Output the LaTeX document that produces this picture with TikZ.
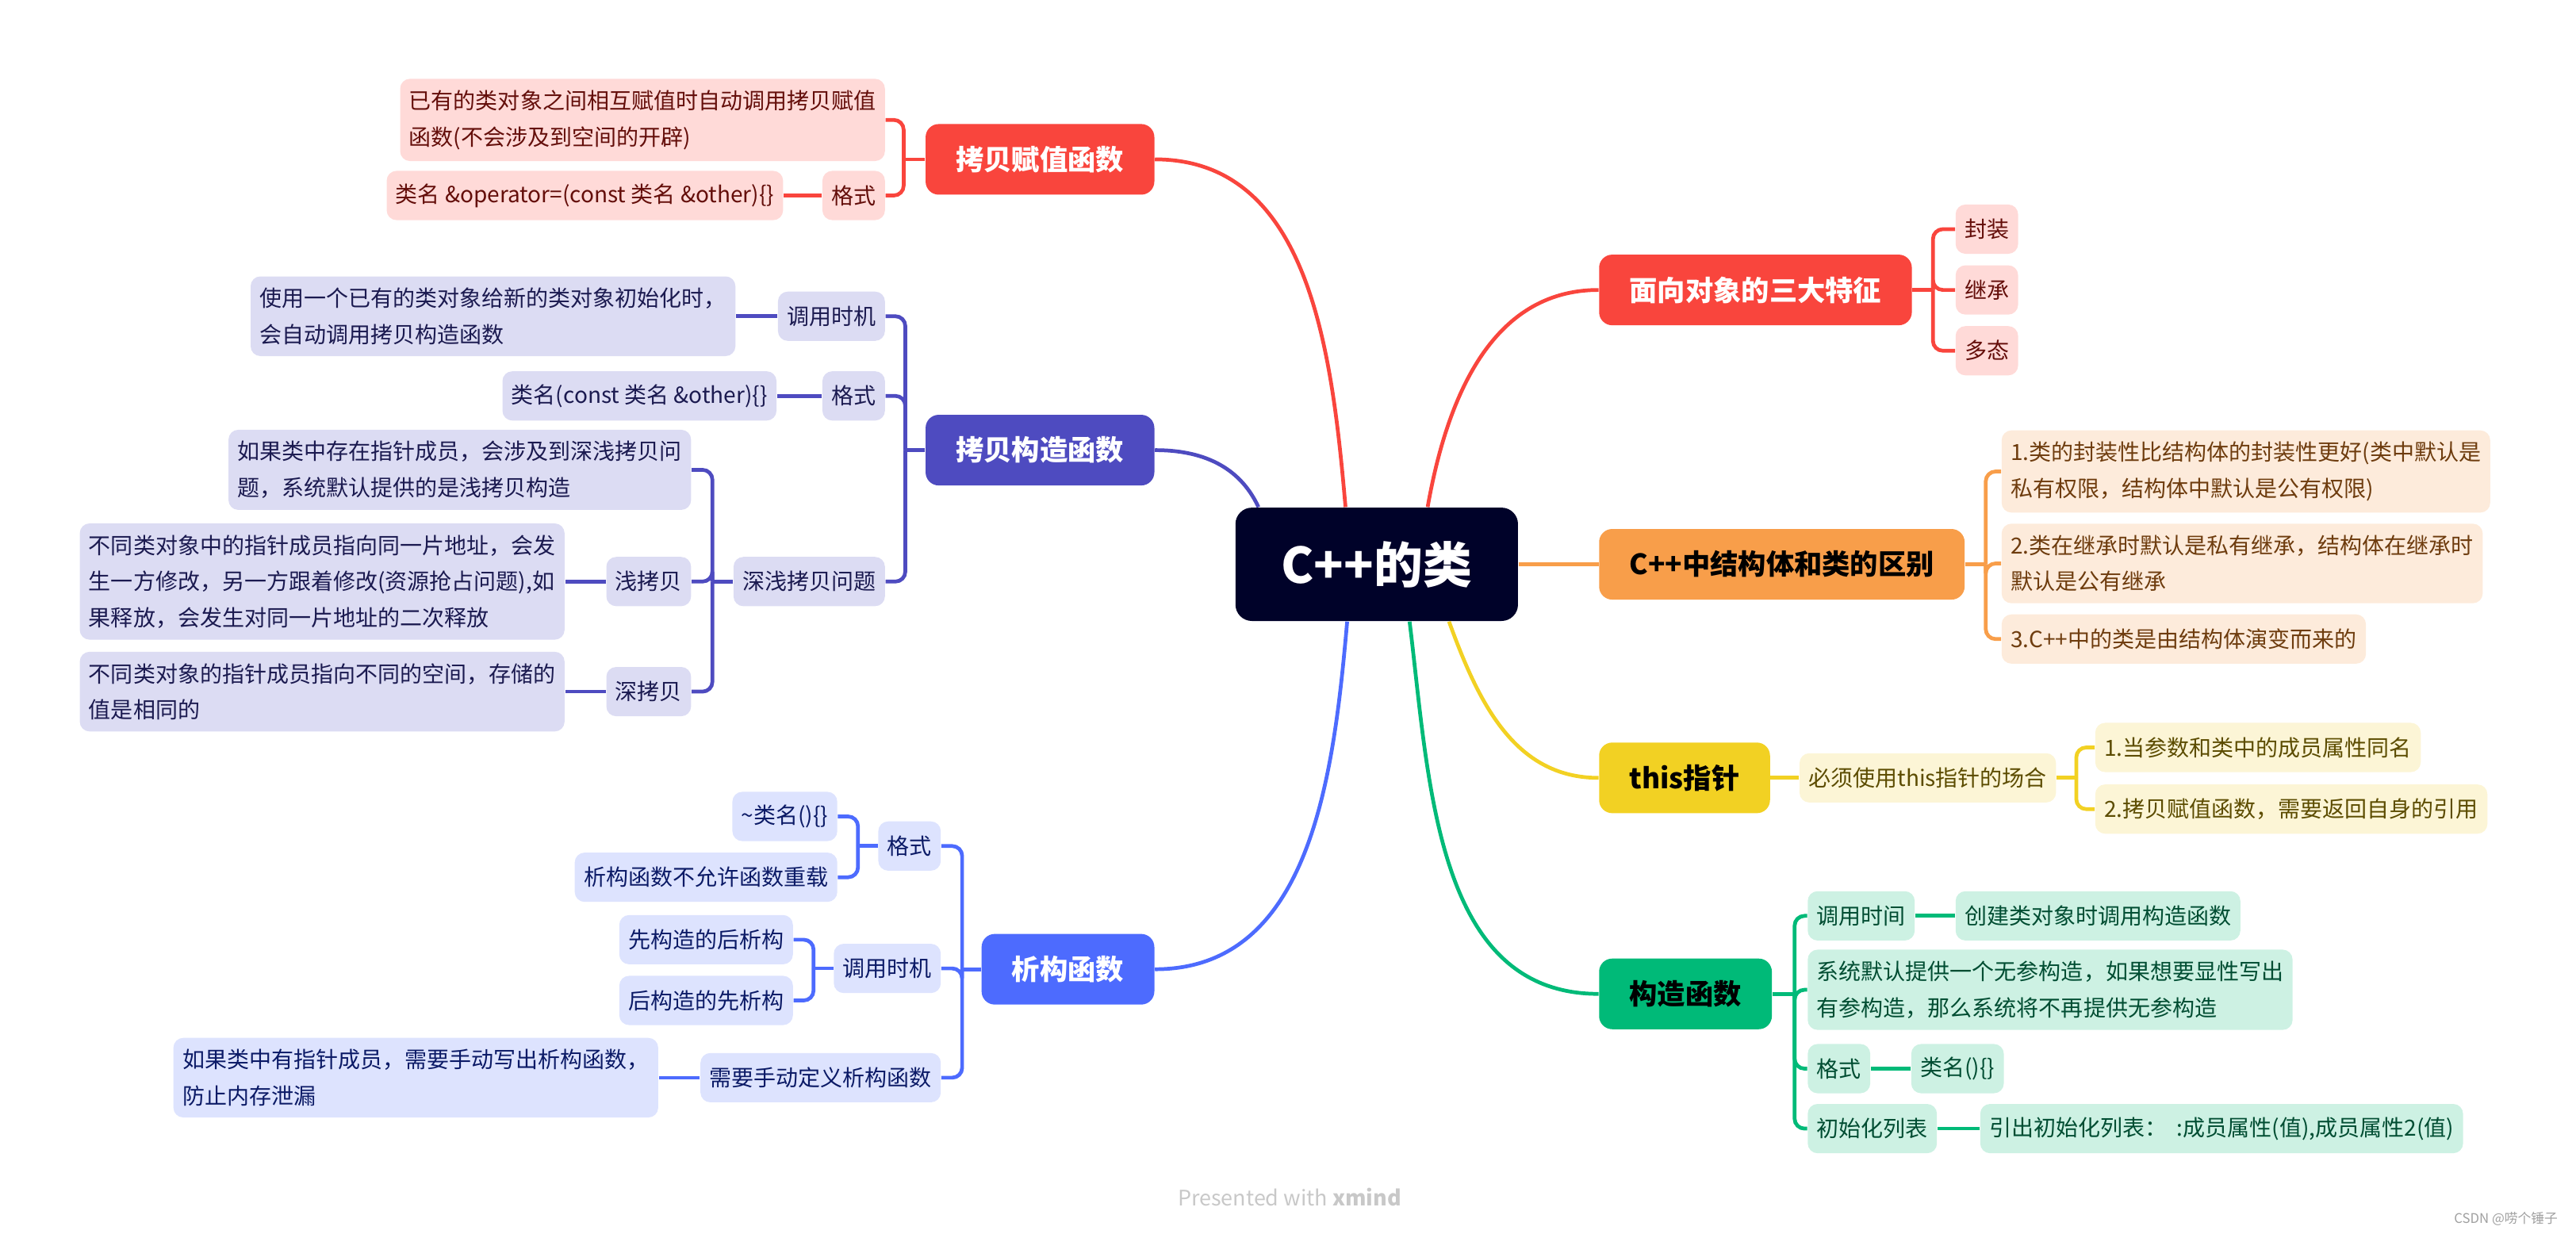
\documentclass[tikz,border=0pt]{standalone}
\usepackage{fontspec}
\setmainfont{Noto Sans CJK SC}
\usepackage{tikz}
\usetikzlibrary{positioning}
\usepackage{xcolor}
\definecolor{Abyss}{RGB}{0,2,41}
\definecolor{Cinnabar}{RGB}{249,69,61}
\definecolor{PinkMist}{RGB}{255,218,216}
\definecolor{Maroon}{RGB}{100,14,10}
\definecolor{Tangerine}{RGB}{248,158,74}
\definecolor{Peach}{RGB}{253,235,219}
\definecolor{Umber}{RGB}{110,60,14}
\definecolor{Mustard}{RGB}{242,209,35}
\definecolor{Cream}{RGB}{252,245,214}
\definecolor{Olive}{RGB}{92,76,0}
\definecolor{Jade}{RGB}{0,186,120}
\definecolor{Mint}{RGB}{205,241,227}
\definecolor{Forest}{RGB}{0,77,50}
\definecolor{Indigo}{RGB}{78,75,192}
\definecolor{Lilac}{RGB}{220,220,243}
\definecolor{Ink}{RGB}{27,26,80}
\definecolor{Azure}{RGB}{77,107,254}
\definecolor{Sky}{RGB}{221,227,254}
\definecolor{Navy}{RGB}{11,26,102}
\definecolor{Ash}{RGB}{200,200,200}

\tikzset{
  root/.style={fill=Abyss, text=white, rounded corners=0.2cm, minimum width=3.44cm,
    minimum height=1.38cm, font=\fontsize{17}{20}\selectfont\bfseries},
  topic/.style={fill=#1, rounded corners=0.16cm, minimum height=0.86cm, inner xsep=0.37cm,
    font=\fontsize{9.7}{12}\selectfont\bfseries},
  leaf/.style={rounded corners=0.12cm, minimum height=0.6cm, inner xsep=0.11cm,
    inner ysep=0.14cm, align=left, font=\fontsize{7.7}{12.5}\selectfont},
  pinkleaf/.style={leaf, fill=PinkMist, text=Maroon},
  peachleaf/.style={leaf, fill=Peach, text=Umber},
  creamleaf/.style={leaf, fill=Cream, text=Olive},
  mintleaf/.style={leaf, fill=Mint, text=Forest},
  lilacleaf/.style={leaf, fill=Lilac, text=Ink},
  skyleaf/.style={leaf, fill=Sky, text=Navy},
  wire/.style={draw=#1, line width=1.3pt},
  brace/.style={draw=#1, line width=1.3pt, rounded corners=0.12cm},
}

\begin{document}
\begin{tikzpicture}[x=0.02cm, y=-0.02cm]
	\useasboundingbox (0,0) rectangle (1568,751);

	% Nodo central
	\node[root] (root) at (838,343.5) {C++的类};

	% Ramas de la derecha
	\node[topic=Cinnabar, text=white, anchor=west] (rasgos) at (973,176.5) {面向对象的三大特征};
	\node[pinkleaf, anchor=west] (encap) at (1190,139.5) {封装};
	\node[pinkleaf, anchor=west] (herencia) at (1190,176.5) {继承};
	\node[pinkleaf, anchor=west] (poli) at (1190,213.5) {多态};

	\node[topic=Tangerine, anchor=west] (diferencia) at (973,343.5) {C++中结构体和类的区别};
	\node[peachleaf, anchor=west] (dif1) at (1218,287) {1.类的封装性比结构体的封装性更好(类中默认是\\私有权限，结构体中默认是公有权限)};
	\node[peachleaf, anchor=west] (dif2) at (1218,343) {2.类在继承时默认是私有继承，结构体在继承时\\默认是公有继承};
	\node[peachleaf, anchor=west] (dif3) at (1218,389) {3.C++中的类是由结构体演变而来的};

	\node[topic=Mustard, anchor=west] (this) at (973,473.5) {this指针};
	\node[creamleaf, anchor=west] (caso) at (1095,473.5) {必须使用this指针的场合};
	\node[creamleaf, anchor=west] (caso1) at (1275,455) {1.当参数和类中的成员属性同名};
	\node[creamleaf, anchor=west] (caso2) at (1275,492.5) {2.拷贝赋值函数，需要返回自身的引用};

	\node[topic=Jade, anchor=west] (ctor) at (973,605) {构造函数};
	\node[mintleaf, anchor=west] (ctort) at (1100,557.5) {调用时间};
	\node[mintleaf, anchor=west] (ctorta) at (1190,557.5) {创建类对象时调用构造函数};
	\node[mintleaf, anchor=west] (ctord) at (1100,602.5) {系统默认提供一个无参构造，如果想要显性写出\\有参构造，那么系统将不再提供无参构造};
	\node[mintleaf, anchor=west] (ctorf) at (1100,650.5) {格式};
	\node[mintleaf, anchor=west] (ctorfa) at (1163,650.5) {类名()\{\}};
	\node[mintleaf, anchor=west] (ctorl) at (1100,687) {初始化列表};
	\node[mintleaf, anchor=west] (ctorla) at (1205,687) {引出初始化列表：\ \ :成员属性(值),成员属性2(值)};

	% Ramas de la izquierda
	\node[topic=Cinnabar, text=white, anchor=east] (asig) at (703,97) {拷贝赋值函数};
	\node[pinkleaf, anchor=east] (asig1) at (539,73) {已有的类对象之间相互赋值时自动调用拷贝赋值\\函数(不会涉及到空间的开辟)};
	\node[pinkleaf, anchor=east] (asigf) at (539,119) {格式};
	\node[pinkleaf, anchor=east] (asigfa) at (477,119) {类名 \&operator=(const 类名 \&other)\{\}};

	\node[topic=Indigo, text=white, anchor=east] (copia) at (703,274) {拷贝构造函数};
	\node[lilacleaf, anchor=east] (copiat) at (539,192.5) {调用时机};
	\node[lilacleaf, anchor=east] (copiata) at (448,192.5) {使用一个已有的类对象给新的类对象初始化时，\\会自动调用拷贝构造函数};
	\node[lilacleaf, anchor=east] (copiaf) at (539,241) {格式};
	\node[lilacleaf, anchor=east] (copiafa) at (473,241) {类名(const 类名 \&other)\{\}};
	\node[lilacleaf, anchor=east] (copiap) at (539,354) {深浅拷贝问题};
	\node[lilacleaf, anchor=east] (copiap1) at (421,286) {如果类中存在指针成员，会涉及到深浅拷贝问\\题，系统默认提供的是浅拷贝构造};
	\node[lilacleaf, anchor=east] (llana) at (421,354) {浅拷贝};
	\node[lilacleaf, anchor=east] (llanaa) at (344,354) {不同类对象中的指针成员指向同一片地址，会发\\生一方修改，另一方跟着修改(资源抢占问题),如\\果释放，会发生对同一片地址的二次释放};
	\node[lilacleaf, anchor=east] (honda) at (421,421) {深拷贝};
	\node[lilacleaf, anchor=east] (hondaa) at (344,421) {不同类对象的指针成员指向不同的空间，存储的\\值是相同的};

	\node[topic=Azure, text=white, anchor=east] (dtor) at (703,590) {析构函数};
	\node[skyleaf, anchor=east] (dtorf) at (573,515) {格式};
	\node[skyleaf, anchor=east] (dtorf1) at (510,497) {\textasciitilde 类名()\{\}};
	\node[skyleaf, anchor=east] (dtorf2) at (510,534) {析构函数不允许函数重载};
	\node[skyleaf, anchor=east] (dtort) at (573,589.5) {调用时机};
	\node[skyleaf, anchor=east] (dtort1) at (483,572) {先构造的后析构};
	\node[skyleaf, anchor=east] (dtort2) at (483,609) {后构造的先析构};
	\node[skyleaf, anchor=east] (dtorm) at (573,656) {需要手动定义析构函数};
	\node[skyleaf, anchor=east] (dtorma) at (401,656) {如果类中有指针成员，需要手动写出析构函数，\\防止内存泄漏};

	% Curvas desde el nodo central
	\draw[wire=Cinnabar] ([xshift=-0.38cm]root.north) to[out=95,in=0] (asig.east);
	\draw[wire=Cinnabar] ([xshift=0.62cm]root.north) to[out=80,in=180] (rasgos.west);
	\draw[wire=Indigo] ([xshift=-1.44cm]root.north) to[out=115,in=0] (copia.east);
	\draw[wire=Tangerine] (root.east) -- (diferencia.west);
	\draw[wire=Mustard] ([xshift=0.88cm]root.south) to[out=-70,in=180] (this.west);
	\draw[wire=Jade] ([xshift=0.4cm]root.south) to[out=-83,in=180] (ctor.west);
	\draw[wire=Azure] ([xshift=-0.36cm]root.south) to[out=-95,in=0] (dtor.east);

	% Llaves hacia la derecha
	\draw[wire=Cinnabar] (rasgos.east) -- ++(0.25cm,0);
	\foreach \h in {encap,herencia,poli}
		\draw[brace=Cinnabar] ([xshift=0.25cm]rasgos.east) |- (\h.west);
	\draw[wire=Tangerine] (diferencia.east) -- ++(0.25cm,0);
	\foreach \h in {dif1,dif2,dif3}
		\draw[brace=Tangerine] ([xshift=0.25cm]diferencia.east) |- (\h.west);
	\draw[wire=Mustard] (this.east) -- (caso.west);
	\draw[wire=Mustard] (caso.east) -- ++(0.24cm,0);
	\foreach \h in {caso1,caso2}
		\draw[brace=Mustard] ([xshift=0.24cm]caso.east) |- (\h.west);
	\draw[wire=Jade] (ctor.east) -- ++(0.27cm,0);
	\foreach \h in {ctort,ctord,ctorf,ctorl}
		\draw[brace=Jade] ([xshift=0.27cm]ctor.east) |- (\h.west);
	\draw[wire=Jade] (ctort.east) -- (ctorta.west);
	\draw[wire=Jade] (ctorf.east) -- (ctorfa.west);
	\draw[wire=Jade] (ctorl.east) -- (ctorla.west);

	% Llaves hacia la izquierda
	\draw[wire=Cinnabar] (asig.west) -- ++(-0.26cm,0);
	\foreach \h in {asig1,asigf}
		\draw[brace=Cinnabar] ([xshift=-0.26cm]asig.west) |- (\h.east);
	\draw[wire=Cinnabar] (asigf.west) -- (asigfa.east);

	\draw[wire=Indigo] (copia.west) -- ++(-0.24cm,0);
	\foreach \h in {copiat,copiaf,copiap}
		\draw[brace=Indigo] ([xshift=-0.24cm]copia.west) |- (\h.east);
	\draw[wire=Indigo] (copiat.west) -- (copiata.east);
	\draw[wire=Indigo] (copiaf.west) -- (copiafa.east);
	\draw[wire=Indigo] (copiap.west) -- ++(-0.25cm,0);
	\foreach \h in {copiap1,llana,honda}
		\draw[brace=Indigo] ([xshift=-0.25cm]copiap.west) |- (\h.east);
	\draw[wire=Indigo] (llana.west) -- (llanaa.east);
	\draw[wire=Indigo] (honda.west) -- (hondaa.east);

	\draw[wire=Azure] (dtor.west) -- ++(-0.23cm,0);
	\foreach \h in {dtorf,dtort,dtorm}
		\draw[brace=Azure] ([xshift=-0.23cm]dtor.west) |- (\h.east);
	\draw[wire=Azure] (dtorf.west) -- ++(-0.24cm,0);
	\foreach \h in {dtorf1,dtorf2}
		\draw[brace=Azure] ([xshift=-0.24cm]dtorf.west) |- (\h.east);
	\draw[wire=Azure] (dtort.west) -- ++(-0.24cm,0);
	\foreach \h in {dtort1,dtort2}
		\draw[brace=Azure] ([xshift=-0.24cm]dtort.west) |- (\h.east);
	\draw[wire=Azure] (dtorm.west) -- (dtorma.east);

	% Marcas de agua
	\node[text=Ash, font=\fontsize{7.4}{9}\selectfont] (marca) at (785,728.5) {Presented with \textbf{xmind}};
	\node[text=Ash!80!black, font=\fontsize{4.6}{6}\selectfont, anchor=east] (csdn) at (1563,742) {CSDN @唠个锤子};
\end{tikzpicture}
\end{document}
